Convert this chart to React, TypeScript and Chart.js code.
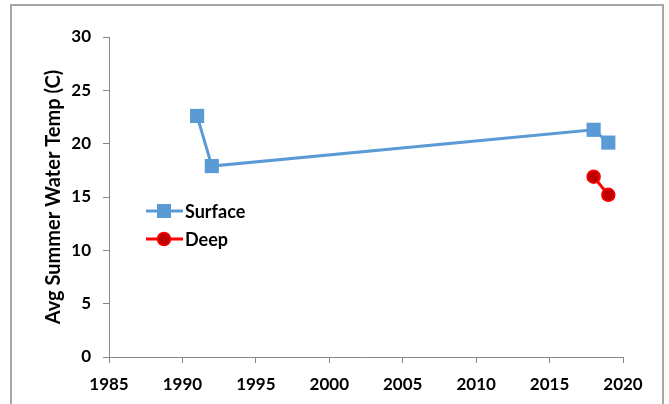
import React, { useEffect, useRef } from "react";
import { Chart, registerables } from "chart.js";

Chart.register(...registerables);

const surfaceYears = [1991, 1992, 2018, 2019];
const surfaceTemps = [22.6, 17.9, 21.3, 20.1];
const deepYears = [2018, 2019];
const deepTemps = [16.9, 15.2];
const xTicks = [1985, 1990, 1995, 2000, 2005, 2010, 2015, 2020];
const yTicks = [0, 5, 10, 15, 20, 25, 30];
const legendLabels = ["Surface", "Deep"];
const yTitle = "Avg Summer Water Temp (C)";

const FONT = "Lato, 'Open Sans', sans-serif";
const BLUE = "#5b9bd5";
const RED = "#ff0000";
const DARKRED = "#c00000";

const legendPlugin = {
  id: "customLegend",
  afterDraw(chart: any) {
    const ctx = chart.ctx;
    const items = [
      { label: legendLabels[0], color: BLUE, y: 211, marker: "rect" },
      { label: legendLabels[1], color: RED, y: 239, marker: "circle" },
    ];
    ctx.save();
    for (const it of items) {
      ctx.strokeStyle = it.color;
      ctx.lineWidth = 3;
      ctx.beginPath();
      ctx.moveTo(146, it.y);
      ctx.lineTo(183, it.y);
      ctx.stroke();
      if (it.marker === "rect") {
        ctx.fillStyle = BLUE;
        ctx.fillRect(164 - 7, it.y - 7, 14, 14);
      } else {
        ctx.fillStyle = DARKRED;
        ctx.strokeStyle = RED;
        ctx.lineWidth = 1.5;
        ctx.beginPath();
        ctx.arc(164, it.y, 6.5, 0, Math.PI * 2);
        ctx.fill();
        ctx.stroke();
      }
      ctx.fillStyle = "#000";
      ctx.font = `bold 18px ${FONT}`;
      ctx.textBaseline = "middle";
      ctx.textAlign = "left";
      ctx.fillText(it.label, 185, it.y + 1);
    }
    ctx.restore();
  },
};

export default function App() {
  const ref = useRef<HTMLCanvasElement>(null);
  useEffect(() => {
    if (!ref.current) return;
    const chart = new Chart(ref.current, {
      type: "scatter",
      data: {
        datasets: [
          {
            label: legendLabels[0],
            data: surfaceYears.map((x, i) => ({ x, y: surfaceTemps[i] })),
            showLine: true,
            borderColor: BLUE,
            backgroundColor: BLUE,
            borderWidth: 3,
            pointStyle: "rect",
            pointRadius: 10,
            pointBorderWidth: 0,
            pointBackgroundColor: BLUE,
          },
          {
            label: legendLabels[1],
            data: deepYears.map((x, i) => ({ x, y: deepTemps[i] })),
            showLine: true,
            borderColor: RED,
            backgroundColor: DARKRED,
            borderWidth: 3,
            pointStyle: "circle",
            pointRadius: 6.5,
            pointBorderWidth: 1.5,
            pointBorderColor: RED,
            pointBackgroundColor: DARKRED,
          },
        ],
      },
      options: {
        animation: false,
        responsive: false,
        maintainAspectRatio: false,
        layout: { padding: { left: 0, top: 37, right: 46, bottom: 0 } },
        plugins: { legend: { display: false }, tooltip: { enabled: false } },
        scales: {
          x: {
            type: "linear",
            min: xTicks[0],
            max: xTicks[xTicks.length - 1],
            afterBuildTicks: (s: any) => {
              s.ticks = xTicks.map((v) => ({ value: v }));
            },
            afterFit: (s: any) => {
              s.height = 47;
            },
            ticks: {
              callback: (v: any) => String(v),
              color: "#000",
              font: { family: FONT, size: 17, weight: "bold" },
              padding: 11,
              maxRotation: 0,
              autoSkip: false,
            },
            grid: {
              drawOnChartArea: false,
              drawTicks: true,
              tickLength: 6,
              tickColor: "#868686",
            },
            border: { color: "#868686", width: 1 },
          },
          y: {
            type: "linear",
            min: yTicks[0],
            max: yTicks[yTicks.length - 1],
            afterBuildTicks: (s: any) => {
              s.ticks = yTicks.map((v) => ({ value: v }));
            },
            afterFit: (s: any) => {
              s.width = 109;
            },
            ticks: {
              callback: (v: any) => String(v),
              color: "#000",
              font: { family: FONT, size: 17, weight: "bold" },
              padding: 12,
            },
            grid: {
              drawOnChartArea: false,
              drawTicks: true,
              tickLength: 6,
              tickColor: "#868686",
            },
            border: { color: "#868686", width: 1 },
            title: {
              display: true,
              text: yTitle,
              color: "#000",
              font: { family: FONT, size: 20, weight: "bold" },
              padding: { top: 42, bottom: 0 },
            },
          },
        },
      },
      plugins: [legendPlugin],
    });
    return () => chart.destroy();
  }, []);
  return (
    <div style={{ position: "fixed", left: 0, top: 0, width: 669, height: 404, background: "#fff", overflow: "hidden" }}>
      <canvas ref={ref} width={669} height={404} style={{ position: "absolute", left: 0, top: 0 }} />
      <div
        style={{
          position: "absolute",
          left: 10,
          top: 4,
          width: 650,
          height: 420,
          border: "2px solid #a6a6a6",
          pointerEvents: "none",
        }}
      />
    </div>
  );
}
